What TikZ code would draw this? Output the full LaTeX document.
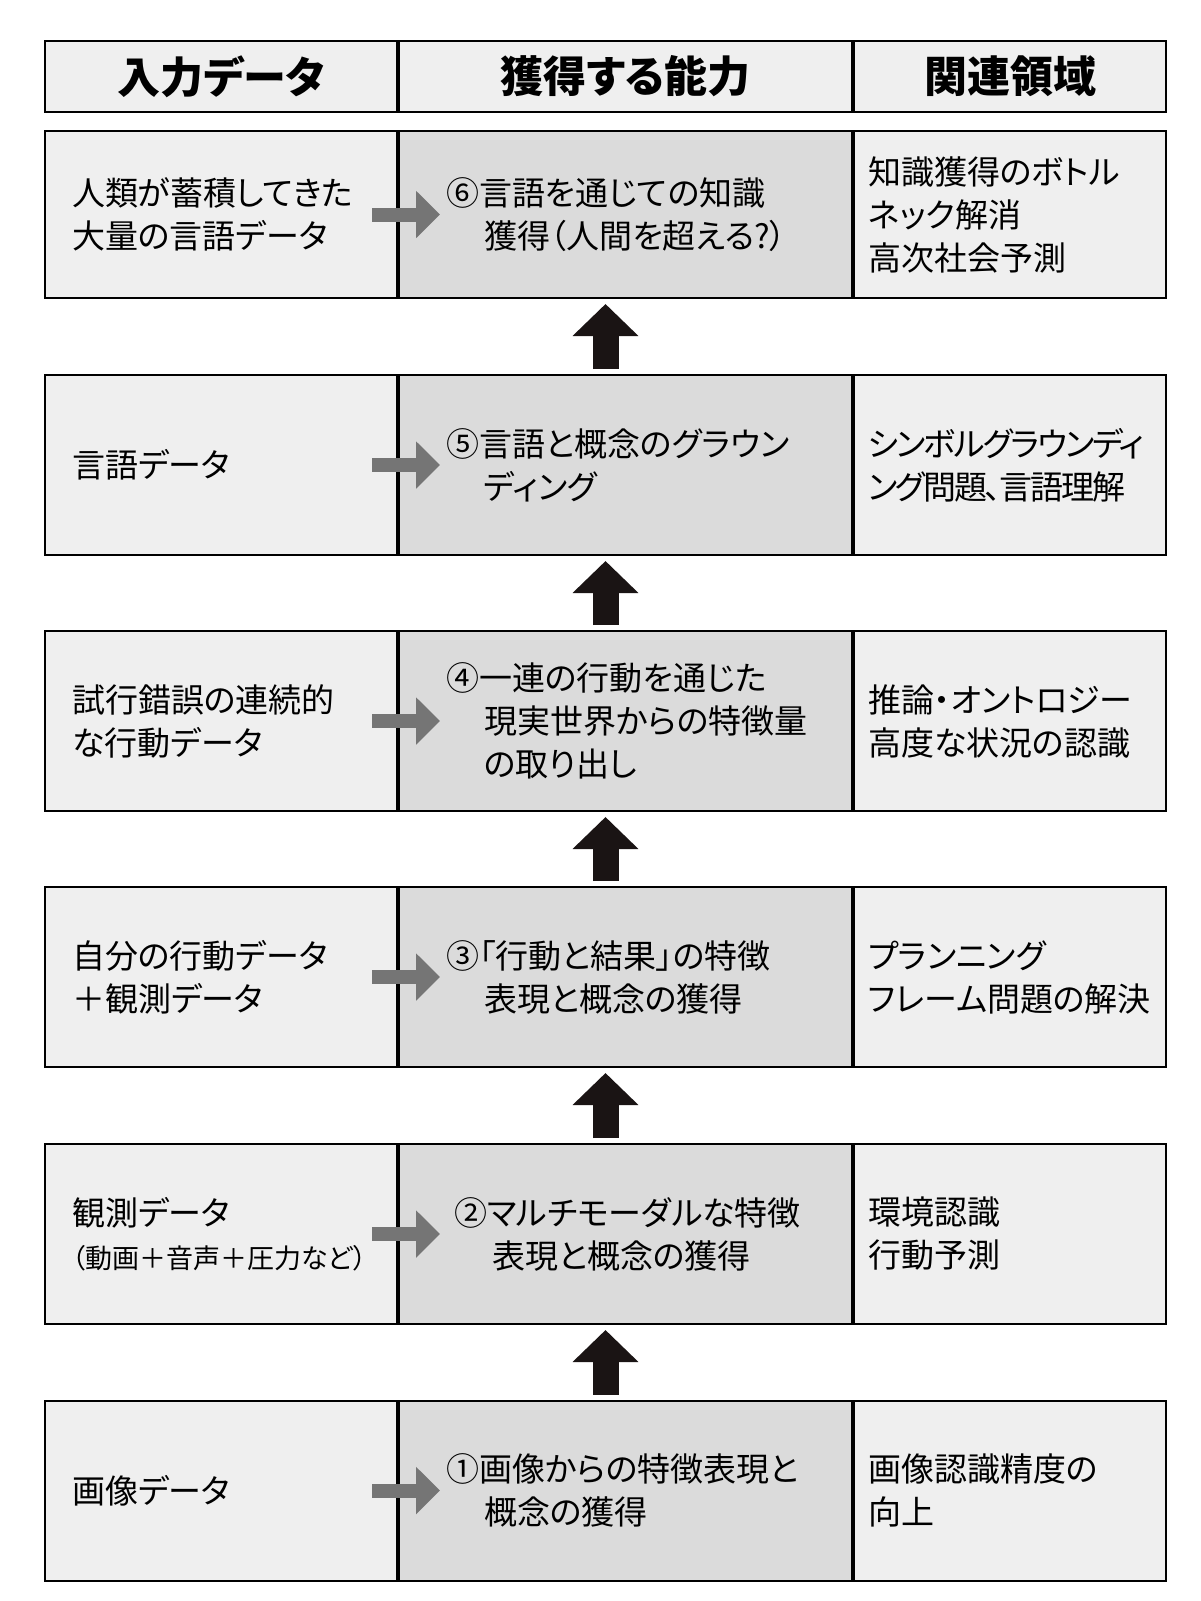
\documentclass[tikz,border=0pt]{standalone}
\usepackage{fontspec}
\usepackage{xcolor}
\usepackage{tikz}
\usetikzlibrary{positioning,arrows.meta}

\newfontfamily\jp[RawFeature=+palt]{Noto Sans CJK JP}
\definecolor{cellgray}{HTML}{EFEFEF}
\definecolor{abilgray}{HTML}{DBDBDB}
\definecolor{flowgray}{HTML}{757575}
\definecolor{riseblack}{HTML}{1A1414}
\newcommand{\cont}{\hspace*{38pt}}

\begin{document}
\begin{tikzpicture}[
    x=1pt, y=-1pt,
    font=\jp\fontsize{33pt}{43pt}\selectfont,
    rowbox/.style={rectangle, draw, line width=2pt, minimum height=180pt, inner ysep=0pt, align=left},
    inbox/.style={rowbox, fill=cellgray, minimum width=352pt, text width=298pt, inner xsep=27pt},
    abilbox/.style={rowbox, fill=abilgray, minimum width=453pt, text width=359pt, inner xsep=47pt},
    fieldbox/.style={rowbox, fill=cellgray, minimum width=312pt, text width=284pt, inner xsep=14pt},
    headbox/.style={rectangle, draw, line width=2pt, fill=cellgray, minimum height=71pt, align=center,
        font=\jp\bfseries\fontsize{43pt}{50pt}\selectfont},
    flowarrow/.style={draw=flowgray, line width=14pt, -{Triangle[width=46pt,length=24pt]}},
    risearrow/.style={draw=riseblack, line width=26pt, -{Triangle[width=64pt,length=32pt]}}
]
\path[fill=white] (0,0) rectangle (1200,1601);
\useasboundingbox (0,0) rectangle (1200,1601);

% header
\node [headbox, minimum width=352pt, anchor=west] (hin) at (44,76.5) {入力データ};
\node [headbox, minimum width=453pt, right=0pt of hin] (habil) {獲得する能力};
\node [headbox, minimum width=312pt, right=0pt of habil] (hfield) {関連領域};

% row 6
\node [inbox, minimum height=167pt, anchor=west] (in6) at (44,214.5) {人類が蓄積してきた\\大量の言語データ};
\node [abilbox, minimum height=167pt, right=0pt of in6] (ab6) {⑥言語を通じての知識\\\cont 獲得（人間を超える?）};
\node [fieldbox, minimum height=167pt, right=0pt of ab6] (fd6) {知識獲得のボトル\\ネック解消\\高次社会予測};

% row 5
\node [inbox, anchor=west] (in5) at (44,465) {言語データ};
\node [abilbox, right=0pt of in5] (ab5) {⑤言語と概念のグラウン\\\cont ディング};
\node [fieldbox, right=0pt of ab5] (fd5) {\addfontfeature{LetterSpace=-6}シンボルグラウンディ\\ング問題、言語理解};

% row 4
\node [inbox, anchor=west] (in4) at (44,721) {試行錯誤の連続的\\な行動データ};
\node [abilbox, right=0pt of in4] (ab4) {④一連の行動を通じた\\\cont 現実世界からの特徴量\\\cont の取り出し};
\node [fieldbox, right=0pt of ab4] (fd4) {推論・オントロジー\\高度な状況の認識};

% row 3
\node [inbox, anchor=west] (in3) at (44,977) {自分の行動データ\\＋観測データ};
\node [abilbox, right=0pt of in3] (ab3) {③「行動と結果」の特徴\\\cont 表現と概念の獲得};
\node [fieldbox, right=0pt of ab3] (fd3) {プランニング\\フレーム問題の解決};

% row 2
\node [inbox, anchor=west] (in2) at (44,1234) {観測データ\\{\fontsize{27pt}{36pt}\selectfont（動画＋音声＋圧力など）}};
\node [abilbox, right=0pt of in2] (ab2) {\hspace*{8pt}②マルチモーダルな特徴\\\cont\hspace*{8pt}表現と概念の獲得};
\node [fieldbox, right=0pt of ab2] (fd2) {環境認識\\行動予測};

% row 1
\node [inbox, anchor=west] (in1) at (44,1490.5) {画像データ};
\node [abilbox, right=0pt of in1] (ab1) {①画像からの特徴表現と\\\cont 概念の獲得};
\node [fieldbox, right=0pt of ab1] (fd1) {画像認識精度の\\向上};

% input -> ability
\draw [flowarrow] ([xshift=-26pt]in6.east) -- ([xshift=42pt]ab6.west);
\draw [flowarrow] ([xshift=-26pt]in5.east) -- ([xshift=42pt]ab5.west);
\draw [flowarrow] ([xshift=-26pt]in4.east) -- ([xshift=42pt]ab4.west);
\draw [flowarrow] ([xshift=-26pt]in3.east) -- ([xshift=42pt]ab3.west);
\draw [flowarrow] ([xshift=-26pt]in2.east) -- ([xshift=42pt]ab2.west);
\draw [flowarrow] ([xshift=-26pt]in1.east) -- ([xshift=42pt]ab1.west);

% steps upward
\draw [risearrow] ([xshift=-20pt,yshift=5pt]ab1.north) -- ([xshift=-20pt,yshift=-5pt]ab2.south);
\draw [risearrow] ([xshift=-20pt,yshift=5pt]ab2.north) -- ([xshift=-20pt,yshift=-5pt]ab3.south);
\draw [risearrow] ([xshift=-20pt,yshift=5pt]ab3.north) -- ([xshift=-20pt,yshift=-5pt]ab4.south);
\draw [risearrow] ([xshift=-20pt,yshift=5pt]ab4.north) -- ([xshift=-20pt,yshift=-5pt]ab5.south);
\draw [risearrow] ([xshift=-20pt,yshift=5pt]ab5.north) -- ([xshift=-20pt,yshift=-5pt]ab6.south);

\end{tikzpicture}
\end{document}
